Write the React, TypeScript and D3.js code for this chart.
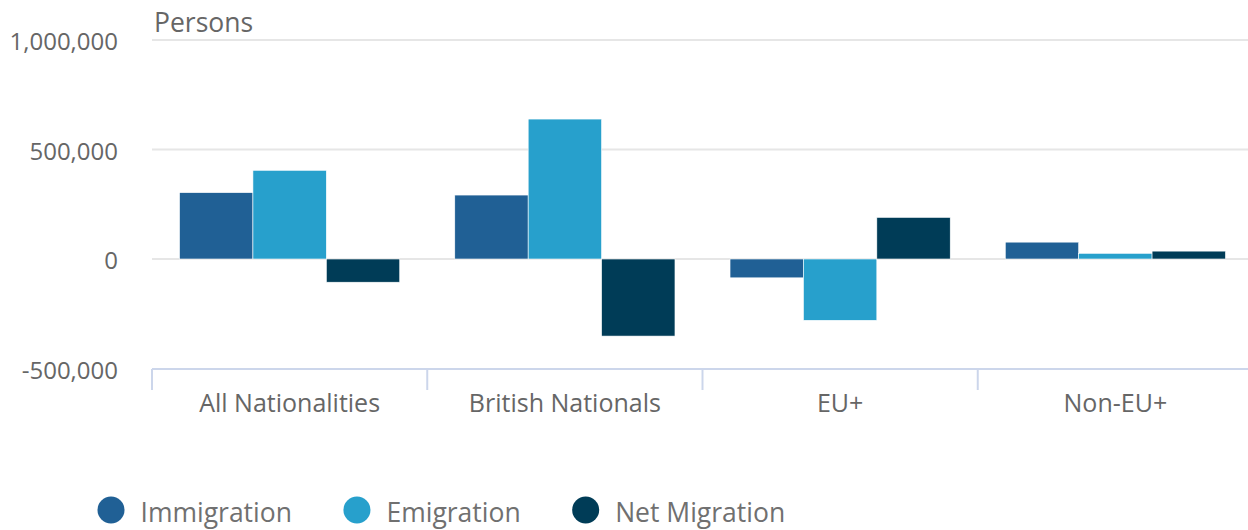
import React, { useEffect, useRef } from 'react';
import * as d3 from 'd3';

const categories = ['All Nationalities', 'British Nationals', 'EU+', 'Non-EU+'];
const seriesNames = ['Immigration', 'Emigration', 'Net Migration'];
const immigration = [303000, 292000, -86000, 77000];
const emigration = [405000, 639000, -280000, 26000];
const netMigration = [-106000, -352000, 190000, 36000];
const yTicks = [-500000, 0, 500000, 1000000];
const colors = ['#206095', '#27a0cc', '#003c57'];

const WIDTH = 1248;
const HEIGHT = 530;
const FONT = '"Open Sans", sans-serif';

const App: React.FC = () => {
  const svgRef = useRef<SVGSVGElement>(null);

  useEffect(() => {
    if (!svgRef.current) return;
    const svg = d3.select(svgRef.current);
    svg.selectAll('*').remove();

    const series = [immigration, emigration, netMigration];

    const x = d3.scaleBand<string>()
      .domain(categories)
      .range([152, 1253])
      .paddingInner(0)
      .paddingOuter(0);

    // group padding of 10% on each side of the category band
    const bw = x.bandwidth();
    const x1 = d3.scaleBand<number>()
      .domain(d3.range(series.length))
      .range([bw * 0.1, bw * 0.9])
      .padding(0);

    const y = d3.scaleLinear()
      .domain([-500000, 1000000])
      .range([368.5, 40]);

    const fmt = (v: number) => d3.format(',')(v).replace('\u2212', '-');

    // grid lines
    svg.append('g')
      .selectAll('line')
      .data(yTicks.filter(t => t !== -500000))
      .enter().append('line')
      .attr('x1', 152)
      .attr('x2', WIDTH)
      .attr('y1', d => y(d))
      .attr('y2', d => y(d))
      .attr('stroke', '#e6e6e6')
      .attr('stroke-width', 2);

    // y labels
    svg.append('g')
      .selectAll('text')
      .data(yTicks)
      .enter().append('text')
      .attr('x', 118)
      .attr('y', d => y(d) + 10)
      .attr('text-anchor', 'end')
      .style('font-family', FONT)
      .style('font-size', '24px')
      .style('fill', '#666666')
      .text(d => fmt(d));

    // bars
    const groups = svg.append('g')
      .selectAll('g')
      .data(categories)
      .enter().append('g')
      .attr('transform', d => `translate(${x(d)},0)`);

    groups.selectAll('rect')
      .data((_, i) => series.map((s, j) => ({ v: s[i], j })))
      .enter().append('rect')
      .attr('x', d => x1(d.j) as number)
      .attr('width', x1.bandwidth())
      .attr('y', d => y(Math.max(0, d.v)))
      .attr('height', d => Math.abs(y(d.v) - y(0)))
      .attr('fill', d => colors[d.j])
      .attr('stroke', '#ffffff')
      .attr('stroke-width', 0.6);

    // x axis
    svg.append('line')
      .attr('x1', 152)
      .attr('x2', WIDTH)
      .attr('y1', 369)
      .attr('y2', 369)
      .attr('stroke', '#ccd6eb')
      .attr('stroke-width', 2);

    const tickXs = categories.map(c => x(c) as number).concat([x.range()[1]]);
    svg.append('g')
      .selectAll('line')
      .data(tickXs)
      .enter().append('line')
      .attr('x1', d => d)
      .attr('x2', d => d)
      .attr('y1', 369)
      .attr('y2', 390)
      .attr('stroke', '#ccd6eb')
      .attr('stroke-width', 2);

    svg.append('g')
      .selectAll('text')
      .data(categories)
      .enter().append('text')
      .attr('x', d => (x(d) as number) + bw / 2)
      .attr('y', 412)
      .attr('text-anchor', 'middle')
      .style('font-family', FONT)
      .style('font-size', '25px')
      .style('fill', '#666666')
      .text(d => d);

    // axis title
    svg.append('text')
      .attr('x', 154)
      .attr('y', 32)
      .style('font-family', FONT)
      .style('font-size', '26.5px')
      .style('fill', '#666666')
      .text('Persons');

    // legend
    const legend = svg.append('g');
    let lx = 111;
    seriesNames.forEach((name, i) => {
      legend.append('circle')
        .attr('cx', lx)
        .attr('cy', 510)
        .attr('r', 13.5)
        .attr('fill', colors[i]);
      const t = legend.append('text')
        .attr('x', lx + 29.5)
        .attr('y', 522)
        .style('font-family', FONT)
        .style('font-size', '26.5px')
        .style('fill', '#707070')
        .text(name);
      const w = (t.node() as SVGTextElement).getComputedTextLength();
      lx = lx + 29.5 + w + 65;
    });
  }, []);

  return (
    <svg
      ref={svgRef}
      width={WIDTH}
      height={HEIGHT}
      style={{ position: 'absolute', left: 0, top: 0, background: '#ffffff' }}
    />
  );
};

export default App;
